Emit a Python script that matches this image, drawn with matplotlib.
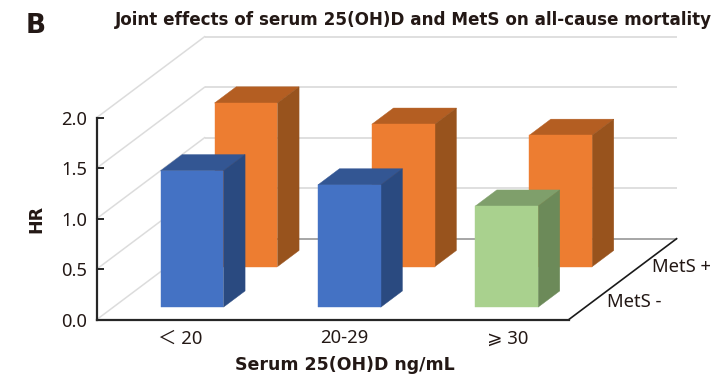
import matplotlib
matplotlib.use("Agg")
import matplotlib.pyplot as plt
from matplotlib.patches import Polygon

categories = ["＜ 20", "20-29", "⩾ 30"]
series_names = ["MetS -", "MetS +"]
mets_neg = [1.35, 1.21, 1.00]
mets_pos = [1.62, 1.41, 1.30]
y_ticks = [0.0, 0.5, 1.0, 1.5, 2.0]

FONT = ["Noto Sans", "Noto Sans CJK SC", "DejaVu Sans"]
BOLD = ["DejaVu Sans"]
plt.rcParams["font.family"] = FONT
INK = "#231815"

W, H = 725, 377
fig = plt.figure(figsize=(W / 100, H / 100), dpi=100, facecolor="white")
ax = fig.add_axes([96.6 / W, (H - 319.7) / H, 472 / W, 202 / H])
ax.set_xlim(-0.5, 2.5)
ax.set_ylim(0, 2)
ax.patch.set_visible(False)

# oblique depth: depth 0 is the front edge of the floor, depth 1 the back wall
DX = 108 / (472 / 3)
DY = 81 / (202 / 2)


def proj(x, depth, y):
    return (x + depth * DX, y + depth * DY)


def face(pts, color, z):
    ax.add_patch(Polygon([proj(*p) for p in pts], closed=True, facecolor=color,
                         edgecolor=color, lw=0.3, clip_on=False, zorder=z))


def bar(x, depth, value, colors, z, bw=0.40, bd=0.2):
    front, top, side = colors
    x0, x1 = x - bw / 2, x + bw / 2
    d0, d1 = depth - bd / 2, depth + bd / 2
    face([(x0, d0, 0), (x1, d0, 0), (x1, d0, value), (x0, d0, value)], front, z + 0.2)
    face([(x0, d0, value), (x1, d0, value), (x1, d1, value), (x0, d1, value)], top, z + 0.1)
    face([(x1, d0, 0), (x1, d1, 0), (x1, d1, value), (x1, d0, value)], side, z + 0.1)


# walls and floor
for v in y_ticks:
    back_l = proj(-0.5, 1, v)
    back_r = proj(2.5, 1, v)
    side_f = proj(-0.5, 0, v)
    col, lw = ("#a6a6a6", 1.4) if v == 0 else ("#dcdcdc", 1.3)
    ax.plot([back_l[0], back_r[0]], [back_l[1], back_r[1]], color=col, lw=lw,
            clip_on=False, zorder=1, solid_capstyle="butt")
    ax.plot([side_f[0], back_l[0]], [side_f[1], back_l[1]], color="#dcdcdc", lw=1.1,
            clip_on=False, zorder=1)

fr = proj(2.5, 0, 0)
br = proj(2.5, 1, 0)
ax.plot([fr[0], br[0]], [fr[1], br[1]], color="#1a1a1a", lw=1.2, clip_on=False, zorder=2)

# bars: back row first
BLUE = ("#4472C4", "#335693", "#2A4A80")
ORANGE = ("#ED7D31", "#B45E22", "#98531D")
GREEN = ("#A9D18E", "#7F9F6B", "#6C8A59")
neg_colors = [BLUE, BLUE, GREEN]
for i, v in enumerate(mets_pos):
    bar(i, 0.755, v, ORANGE, 3)
for i, v in enumerate(mets_neg):
    bar(i, 0.255, v, neg_colors[i], 4)

# axes
for s in ("top", "right"):
    ax.spines[s].set_visible(False)
for s in ("left", "bottom"):
    ax.spines[s].set_color("#262626")
    ax.spines[s].set_linewidth(1.6)
    ax.spines[s].set_zorder(6)
ax.set_yticks(y_ticks)
ax.set_yticklabels([f"{v:.1f}" for v in y_ticks])
ax.tick_params(axis="y", direction="in", length=5, width=1.4, color="#262626",
               labelsize=13.2, labelcolor=INK, pad=7)
# the category labels sit slightly right of the bar slots in the reference
ax.set_xticks([0.034, 1.075, 2.115])
ax.set_xticklabels(categories)
ax.tick_params(axis="x", length=0, labelsize=13.3, labelcolor=INK, pad=7)

ax.set_ylabel("HR", fontsize=12.5, fontweight="bold", color=INK, family=BOLD)
ax.yaxis.set_label_coords(-0.108, 0.5)
ax.set_xlabel("Serum 25(OH)D ng/mL", fontsize=12.5, fontweight="bold", color=INK, family=BOLD)
ax.xaxis.set_label_coords(0.525, -0.18)

# depth category labels
for name, d, dx, dy in zip(series_names, (0.25, 0.75), (8, 1.5), (-1.5, -6)):
    px, py = proj(2.5, d, 0)
    ax.annotate(name, (px, py), xytext=(dx, dy), textcoords="offset points",
                fontsize=13.3, color=INK, ha="left", va="center", annotation_clip=False)

fig.text(413 / W, 1 - 20 / H, "Joint effects of serum 25(OH)D and MetS on all-cause mortality",
         ha="center", va="center", fontsize=12.1, fontweight="bold", color=INK, family=BOLD)
fig.text(36 / W, 1 - 26 / H, "B", ha="center", va="center", fontsize=19, fontweight="bold", color=INK, family=BOLD)

fig.savefig("out.png", dpi=100, facecolor="white")
